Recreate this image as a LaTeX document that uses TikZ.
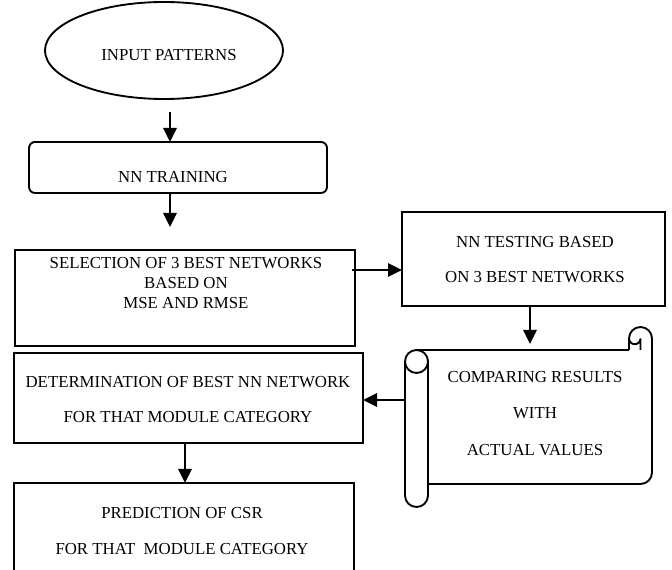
\documentclass[tikz,border=0pt]{standalone}
\usepackage{fontspec}
\setmainfont{Liberation Serif}
\usetikzlibrary{arrows.meta,shapes.geometric}
\begin{document}
\begin{tikzpicture}[x=0.75pt,y=-0.75pt,
  line width=1.4pt,
  box/.style={draw,inner sep=0pt,outer sep=0pt,fill=white},
  lbl/.style={inner sep=0pt,align=center,font=\fontsize{12.6}{15}\selectfont},
  arr/.style={-{Triangle[length=10.5pt,width=10pt]},line width=1.4pt}]
\clip (0,0) rectangle (672,570);
\fill[white] (0,0) rectangle (672,570);
% shapes
\node[box,ellipse,minimum width=178.5pt,minimum height=72.75pt] (inp) at (164,50.5) {};
\node[box,rounded corners=4.5pt,minimum width=223.5pt,minimum height=38.25pt] (train) at (178,167.5) {};
\node[box,minimum width=255pt,minimum height=72pt] (sel) at (185,298) {};
\node[box,minimum width=197.25pt,minimum height=70.5pt] (test) at (533.5,259) {};
\node[box,minimum width=261.75pt,minimum height=67.5pt] (det) at (188.5,398) {};
\node[box,minimum width=255pt,minimum height=75pt] (pred) at (184,533) {};
% scroll
\draw[line join=round] (629,350) -- (629,338.5) arc (180:360:11.5) -- (652,472.5) arc (0:90:11.5) -- (428,484);
\draw (416.5,350) -- (629,350);
\draw (640.5,350) -- (640.5,338.5) arc (0:180:5.75);
\draw (416.5,361.5) circle (11.5);
\draw (405,361.5) -- (405,495.5) arc (180:0:11.5) -- (428,361.5);
\coordinate (sctop) at (530,344);
\coordinate (scleft) at (405,400);
% texts
\node[lbl] (tinp) at (169,55) {INPUT PATTERNS};
\node[lbl] (ttrain) at (173,177) {NN TRAINING};
\node[lbl] (tsel) at (186,283) {SELECTION OF 3 BEST NETWORKS\\BASED ON\\MSE AND RMSE};
\node[lbl] (ttest) at (535,259.5) {NN TESTING BASED\\[11.25pt]ON 3 BEST NETWORKS};
\node[lbl] (tcmp) at (535,413.5) {COMPARING RESULTS\\[12.5pt]WITH\\[12.5pt]ACTUAL VALUES};
\node[lbl] (tdet) at (188,399.5) {DETERMINATION OF BEST NN NETWORK\\[11.25pt]FOR THAT MODULE CATEGORY};
\node[lbl] (tpred) at (182,531) {PREDICTION OF CSR\\[12pt]FOR THAT\ \ MODULE CATEGORY};
% connectors
\draw[arr] ([shift={(6,13)}]inp.south) -- ([shift={(-8,0)}]train.north);
\draw[arr] ([shift={(-8,0)}]train.south) -- ([shift={(-15,-23)}]sel.north);
\draw[arr] ([shift={(-3,20)}]sel.north east) -- ([shift={(0,11)}]test.west);
\draw[arr] ([shift={(-3.5,0)}]test.south) -- (sctop);
\draw[arr] (scleft) -- ([shift={(0,2)}]det.east);
\draw[arr] ([shift={(-3.5,0)}]det.south) -- ([shift={(1,0)}]pred.north);
\end{tikzpicture}
\end{document}
